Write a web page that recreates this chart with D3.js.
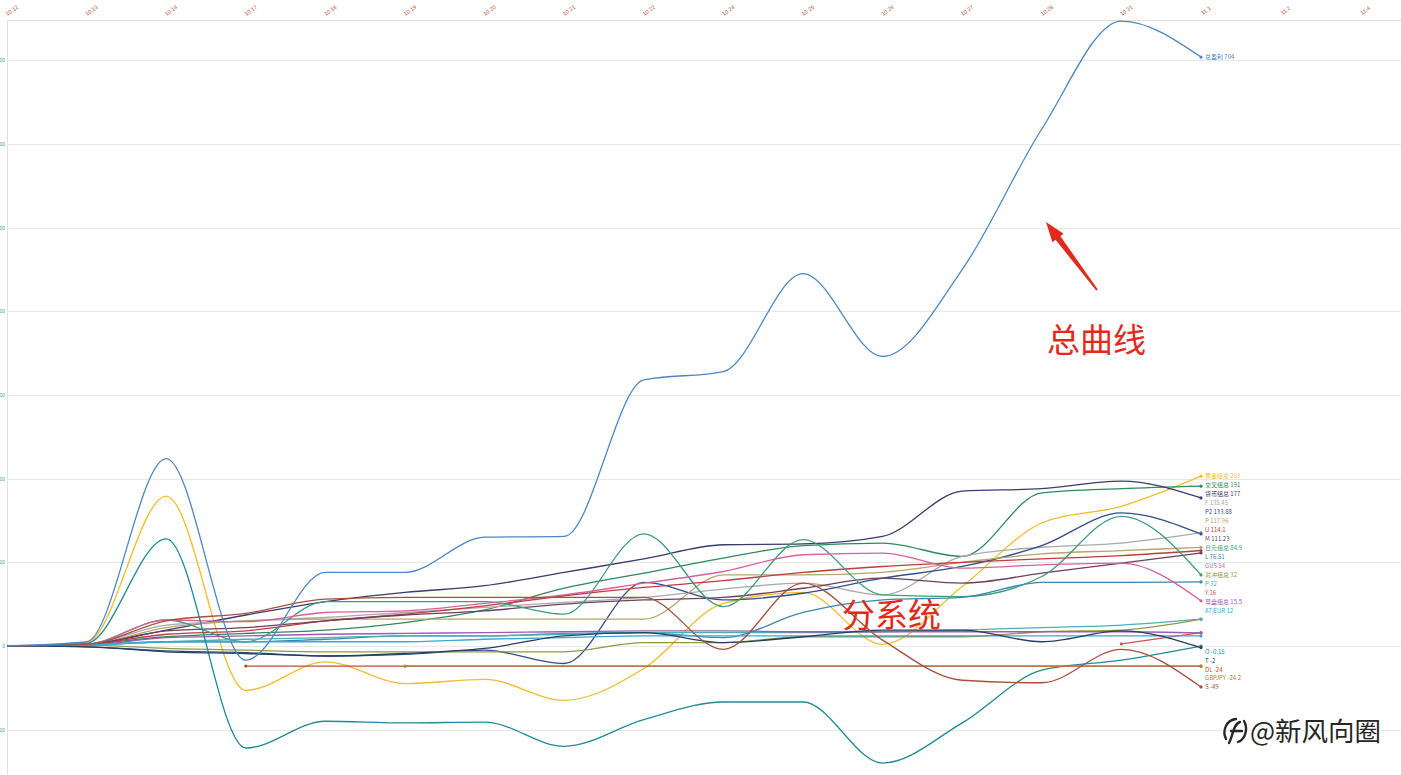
<!DOCTYPE html>
<html><head><meta charset="utf-8">
<script src="https://cdn.jsdelivr.net/npm/d3@7"></script>
<style>html,body{margin:0;padding:0;background:#fff;overflow:hidden}</style>
</head><body>
<svg id="c" width="1401" height="775"></svg>
<script>
// ---------- data ----------
const dates = ["10.12","10.13","10.14","10.17","10.18","10.19","10.20","10.21","10.22","10.24","10.25","10.26","10.27","10.28","10.31","11.1","11.2","11.4"];
const yTicks = [-100,0,100,200,300,400,500,600,700];

const sTotal  = [0,5,224,-17,88,88,130,131,318,328,445,346,450,618,747,704];
const sGold   = [0,4,179,-53,-19,-45,-40,-65,-27,51,64,2,71,147,167,203];
const sCross  = [0,2,11,15,19,28,43,69,87,105,120,123,107,183,188,191];
const sCurr   = [0,2,19,37,53,64,72,88,104,121,122,131,185,188,197,177];
const sF      = [0,2,25,30,34,40,46,52,58,68,75,61,107,118,123,135.45];
const sP2     = [0,-1,-6,-8,-12,-10,-5,-21,76,55,63,81,95,120,159,133.88];
const sP      = [0,2,22,30,32,32,32,32,32,85,85,88,100,110,114,117.96];
const sU      = [0,2,14,18,30,38,48,60,70,78,88,95,100,104,108,114.10];
const sM      = [0,2,18,22,30,37,42,50,55,58,69,81,75,87,99,111.23];
const sJpy    = [0,2,31,5,53,53,53,38,134,47,127,61,59,83,155,84.9];
const sL      = [0,1,5,5,8,12,12,15,16,10,40,55,58,76,76,76.51];
const sGus    = [0,2,31,29,40,42,51,61,75,89,109,111,93,97,99,54];
const sHedge  = [0,1,-3,-5,-7,-7,-7,-7,4,4,11,11,11,17,19,32];
const sP32    = [0,1,5,8,10,12,12,14,16,16,16,17,19,22,25,32];
const sY      = [null,null,null,null,null,null,null,null,null,null,null,null,null,null,2.4,16];
const sEq     = [0,1,10,12,14,15,16,17,18,18,17,17,17,17,17,15.5];
const sAt     = [0,1,5,5,5,5,8,10,12,12,12,12,12,12,12,12];
const sO      = [0,3,128,-122,-90,-92,-91,-120,-88,-67,-67,-140,-92,-29,-17,-0.15];
const sT      = [0,-1,-7,-9,-12,-9,-3,12,16,4,11,19,19,5,18,-2];
const sDL     = [null,null,null,-24,-24,-24,-24,-24,-24,-24,-24,-24,-24,-24,-24,-24];
const sGbp    = [null,null,null,null,null,-24.2,-24.2,-24.2,-24.2,-24.2,-24.2,-24.2,-24.2,-24.2,-24.2,-24.2];
const sS      = [0,2,30,39,56,58,58,58,58,-4,75,7,-41,-44,-4,-49];

const seriesNames  = ["总盈利","黄金组总","交叉组总","货币组总","F","P2","P","U","M","日元组总","L","GUS","对冲组总","P","Y","早盘组总","AT|EUR","O","T","DL","GBPJPY","S"];
const seriesColors = ["#4b87c8","#f2bd2a","#2d8a5f","#3c3a6e","#a9a9a9","#2f4f8f","#b8a46a","#c23b3b","#6d3f5f","#3a9f7a","#3a88b0","#d8609c","#8f9a40","#4ab0b8","#d0505a","#a05ab0","#3aa8d0","#1f8a9a","#23405f","#b5532f","#c07a40","#a8503c"];
const seriesValues = [sTotal,sGold,sCross,sCurr,sF,sP2,sP,sU,sM,sJpy,sL,sGus,sHedge,sP32,sY,sEq,sAt,sO,sT,sDL,sGbp,sS];

// ---------- chart ----------
const svg = d3.select("#c");
const x = d3.scalePoint().domain(dates).range([7, 1360.2]);
const y = d3.scaleLinear().domain([-100, 700]).range([729.6, 60.4]);

svg.append("g").selectAll("line").data(yTicks).join("line")
  .attr("x1", 7).attr("x2", 1401)
  .attr("y1", d => Math.round(y(d)) + 0.5).attr("y2", d => Math.round(y(d)) + 0.5)
  .attr("stroke", "#e8e8e8").attr("stroke-width", 1);
svg.append("line").attr("x1", 7).attr("x2", 1401).attr("y1", 20.5).attr("y2", 20.5).attr("stroke", "#dcdcdc");
svg.append("line").attr("x1", 7.5).attr("x2", 7.5).attr("y1", 20).attr("y2", 775).attr("stroke", "#e2e2e2");

svg.append("g").selectAll("text").data(dates).join("text")
  .attr("transform", d => `translate(${x(d) + 6},${12}) rotate(-35)`)
  .attr("text-anchor", "middle").attr("font-size", 5.5)
  .attr("font-family", "Arial, Liberation Sans, sans-serif")
  .attr("fill", "#b8563f").text(d => d);

svg.append("g").selectAll("text").data(yTicks).join("text")
  .attr("x", 5).attr("y", d => y(d) + 2).attr("text-anchor", "end")
  .attr("font-size", 5).attr("font-family", "Arial, sans-serif")
  .attr("fill", "#4f9a9a").text(d => d);

const series = seriesNames.map((n, i) => ({ name: n, color: seriesColors[i], values: seriesValues[i] }));

const line = d3.line()
  .defined(d => d.v != null)
  .x(d => x(dates[d.i])).y(d => y(d.v))
  .curve(d3.curveMonotoneX);

const drawOrder = series.slice(1).concat([series[0]]);
svg.append("g").selectAll("path").data(drawOrder).join("path")
  .attr("d", s => line(s.values.map((v, i) => ({ v, i }))))
  .attr("fill", "none").attr("stroke", s => s.color).attr("stroke-width", 1.3);

const dots = [];
series.forEach(s => {
  const last = s.values.length - 1;
  dots.push({ s, i: last, v: s.values[last] });
  const first = s.values.findIndex(v => v != null);
  if (first > 0) dots.push({ s, i: first, v: s.values[first] });
});
svg.append("g").selectAll("circle").data(dots).join("circle")
  .attr("cx", d => x(dates[d.i])).attr("cy", d => y(d.v)).attr("r", 1.6)
  .attr("fill", d => d.s.color);

// end labels: positive and negative groups laid out separately around the zero line
const lastVal = s => s.values[s.values.length - 1];
const all = series.map(s => ({ s, y: y(lastVal(s)) }));
function stack(list, gap, minY, maxY) {
  list.sort((a, b) => a.y - b.y);
  if (list.length && minY != null) list[0].y = Math.max(list[0].y, minY);
  for (let i = 1; i < list.length; i++) list[i].y = Math.max(list[i].y, list[i - 1].y + gap);
  if (list.length && maxY != null) {
    list[list.length - 1].y = Math.min(list[list.length - 1].y, maxY);
    for (let i = list.length - 2; i >= 0; i--) list[i].y = Math.min(list[i].y, list[i + 1].y - gap);
  }
}
const y0 = y(0);
const pos = all.filter(d => lastVal(d.s) >= 0);
const neg = all.filter(d => lastVal(d.s) < 0);
stack(pos, 9, null, y0 - 35);
stack(neg, 8.8, y0 + 6, null);
svg.append("g").selectAll("text").data(all).join("text")
  .attr("x", 1205).attr("y", d => d.y).attr("dy", "0.35em")
  .attr("font-size", 6).attr("font-family", "Noto Sans CJK SC, sans-serif")
  .attr("fill", d => d.s.color)
  .text(d => d.s.name + " " + lastVal(d.s));

// ---------- annotations ----------
const red = "#e3281c";
svg.append("text").attr("x", 1047).attr("y", 352).attr("font-size", 33)
  .attr("font-family", "Noto Sans CJK SC, sans-serif").attr("fill", red).text("总曲线");
svg.append("text").attr("x", 842).attr("y", 627).attr("font-size", 33)
  .attr("font-family", "Noto Sans CJK SC, sans-serif").attr("fill", red).text("分系统");
(function () {
  const tx = 1097, ty = 290, hx = 1046, hy = 222;
  const ang = Math.atan2(hy - ty, hx - tx);
  const ux = Math.cos(ang), uy = Math.sin(ang), px = -uy, py = ux;
  const headL = 20;
  const bx = hx - ux * headL, by = hy - uy * headL;
  const pts = [
    [tx + px * 1, ty + py * 1], [bx + px * 3, by + py * 3], [bx + px * 7, by + py * 7],
    [hx, hy],
    [bx - px * 7, by - py * 7], [bx - px * 3, by - py * 3], [tx - px * 1, ty - py * 1]
  ];
  svg.append("path").attr("d", d3.line()(pts) + "Z").attr("fill", red);
})();

const wm = svg.append("g");
wm.append("text").attr("x", 1250).attr("y", 741).attr("font-size", 26.5)
  .attr("font-family", "Noto Sans CJK SC, sans-serif").attr("fill", "#262626")
  .attr("stroke", "#ffffff").attr("stroke-width", 3).attr("paint-order", "stroke")
  .text("@新风向圈");
wm.append("path").attr("d", "M1226,739 C1222,731 1226,720 1236,719 M1238,742 C1246,739 1248,728 1244,721 M1240,722 C1233,724 1233,736 1229,743 M1231,731 L1242,731")
  .attr("fill", "none").attr("stroke", "#262626").attr("stroke-width", 2.4).attr("stroke-linecap", "round");
</script>
</body></html>
